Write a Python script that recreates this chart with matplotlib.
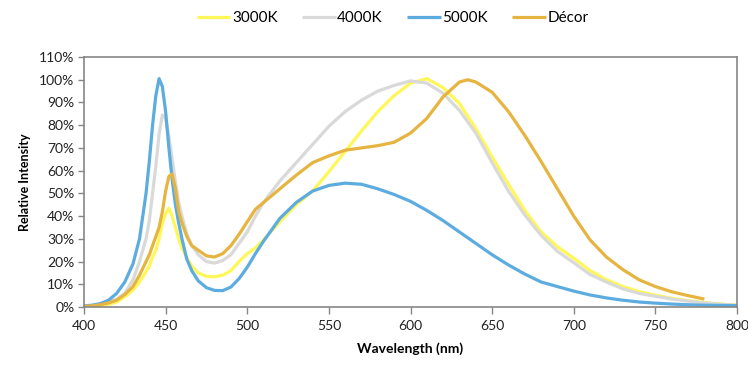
import numpy as np
import matplotlib
matplotlib.use("Agg")
import matplotlib.pyplot as plt
from matplotlib.ticker import FuncFormatter, MultipleLocator

wavelength = [400, 405, 410, 415, 420, 425, 430, 434, 438, 440, 442, 444, 446, 448, 450,
              452, 454, 456, 458, 460, 463, 466, 470, 475, 480, 485, 490, 495, 500, 505,
              510, 520, 530, 540, 550, 560, 570, 580, 590, 600, 610, 620, 630, 635, 640, 650,
              660, 670, 680, 690, 700, 710, 720, 730, 740, 750, 760, 770, 780, 790, 800]

k3000 = [0.2, 0.3, 0.6, 1.2, 2.2, 4.5, 7.5, 11, 15.5, 18, 22, 25, 30, 37, 41,
         43.5, 40, 35, 30, 26, 21.5, 18, 15, 13.5, 13.3, 14, 16, 20, 23.5, 26,
         29.5, 37.5, 45, 51, 59.5, 68.5, 77.5, 86, 93, 98.5, 100.5, 96.5, 89.5, 84, 78.5, 66,
         54, 42.5, 33, 26.5, 21.5, 16, 12, 9, 6.8, 5.2, 3.8, 2.8, 2, 1.3, 0.8]

k4000 = [0.4, 0.6, 1.2, 2.2, 3.5, 6, 12, 20, 30, 38, 50, 62, 76, 84.5, 83,
         75, 65, 55, 46, 40, 32, 27, 23, 20, 19.3, 20.5, 23, 28, 33, 40,
         46, 55.5, 63.5, 71.5, 79.5, 86, 91, 95, 97.5, 99.5, 98.5, 94, 86.5, 81.5, 76.5, 63.5,
         51, 40.5, 31.5, 24.5, 19.5, 14.3, 11, 8, 6, 4.7, 3.5, 2.6, 1.8, 1.2, 0.8]

k5000 = [0.5, 0.8, 1.5, 3, 6, 11, 19, 30, 50, 64, 80, 93, 100.5, 97, 86,
         70, 56, 45, 37, 30, 21, 16, 11.5, 8.5, 7.3, 7.2, 8.8, 12.5, 17.5, 23.5,
         29, 39, 46, 51, 53.5, 54.5, 54, 52, 49.5, 46.5, 42.5, 38, 33, 30.5, 28, 23,
         18.5, 14.5, 11, 9, 7, 5.3, 4, 3, 2.2, 1.7, 1.3, 1.0, 0.8, 0.7, 0.6]

decor = [0.3, 0.5, 1, 1.8, 3, 5.5, 9, 14, 20, 23, 27, 31, 35, 42, 51,
         57.5, 58.5, 52, 42, 37, 31, 27, 25, 22.5, 22, 23.5, 27, 32, 37.5, 43,
         46, 52, 58, 63.5, 66.5, 69, 70, 71, 72.5, 76.5, 83, 92.5, 99, 100, 99, 94.5,
         86, 75.5, 64, 52, 40, 29.5, 22, 16.5, 12, 9, 6.7, 5, 3.5]

series_names = ["3000K", "4000K", "5000K", "Décor"]
colors = ["#FFF757", "#D9D9D9", "#5DACE0", "#E6B440"]

plt.rcParams['font.family'] = ['Lato', 'DejaVu Sans']

fig = plt.figure(figsize=(7.48, 3.69), dpi=100)
ax = fig.add_axes([0.1123, 0.168, 0.8730, 0.6775])

data = [k3000, k4000, k5000, decor]
for name, vals, c in zip(series_names, data, colors):
    ax.plot(wavelength[:len(vals)], vals, color=c, lw=2.3, label=name,
            solid_joinstyle='round', solid_capstyle='butt')

ax.set_xlim(400, 800)
ax.set_ylim(0, 110)
ax.xaxis.set_major_locator(MultipleLocator(50))
ax.yaxis.set_major_locator(MultipleLocator(10))
ax.yaxis.set_major_formatter(FuncFormatter(lambda v, p: f"{int(round(v))}%"))

for s in ax.spines.values():
    s.set_color("#868686")
    s.set_linewidth(1.2)

ax.tick_params(axis='x', direction='out', length=5, width=1, color="#868686",
               labelsize=10, labelcolor="#222222", pad=4)
ax.tick_params(axis='y', direction='out', length=4, width=1, color="#868686",
               labelsize=10, labelcolor="#222222", pad=3)

ax.set_xlabel("Wavelength (nm)", fontsize=10, fontweight='bold', labelpad=8)
ax.set_ylabel("Relative Intensity", fontsize=9, fontweight='bold', labelpad=6)

fig.legend(loc='center', bbox_to_anchor=(0.525, 0.951), ncol=4, frameon=False,
           fontsize=11, handlelength=2.2, handletextpad=0.1, columnspacing=1.6)

fig.savefig("out.png", dpi=100)
